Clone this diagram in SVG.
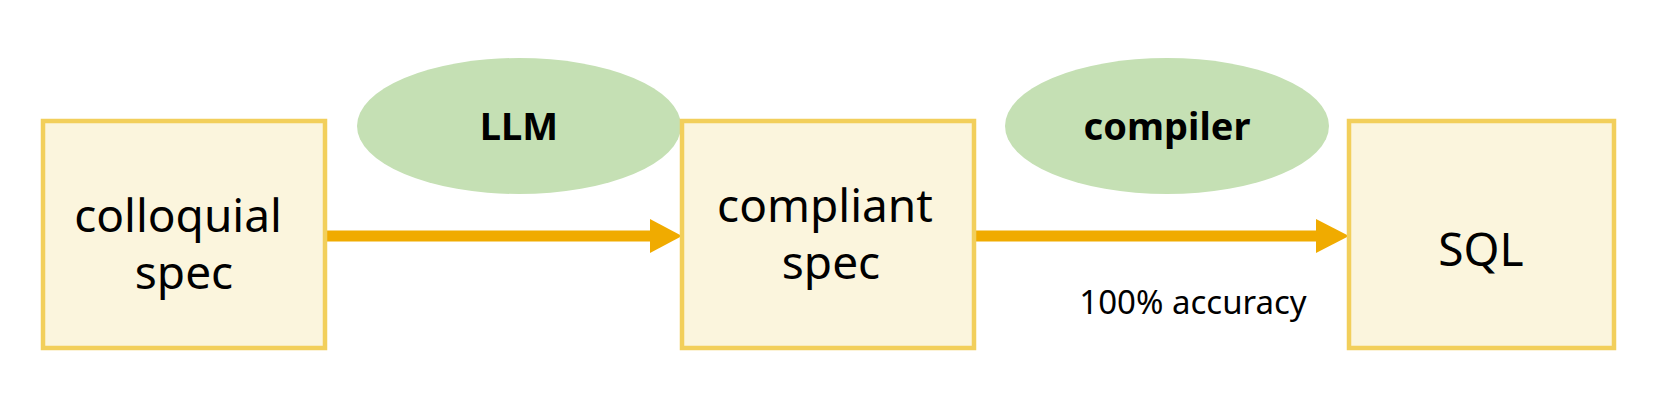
<svg xmlns="http://www.w3.org/2000/svg" width="1667" height="411" viewBox="0 0 1667 411">
<style>
.box{fill:#FBF5DD;stroke:#F2CF5B;stroke-width:4.5}
.ell{fill:#C5E0B4}
.t{font-family:"Noto Sans","Open Sans",sans-serif;font-size:46px;fill:#000;text-anchor:middle}
.b{font-family:"Noto Sans","Open Sans",sans-serif;font-size:38px;font-weight:bold;fill:#000;text-anchor:middle}
.s{font-family:"Noto Sans","Open Sans",sans-serif;font-size:33px;fill:#000;text-anchor:middle}
.a{stroke:#F0AB00;stroke-width:11;fill:none}
.h{fill:#F0AB00}
</style>
<rect width="1667" height="411" fill="#fff"/>
<g id="connectors">
<line class="a" x1="327" y1="236" x2="652" y2="236"/>
<polygon class="h" points="650,219 682,236 650,253"/>
<line class="a" x1="976" y1="236" x2="1318" y2="236"/>
<polygon class="h" points="1316,219 1349,236 1316,253"/>
</g>
<g id="colloquial"><rect class="box" x="43" y="121" width="282" height="227"/>
<text class="t" x="178" y="232">colloquial</text><text class="t" x="184" y="289">spec</text></g>
<g id="llm"><ellipse class="ell" cx="519" cy="126" rx="162" ry="68"/><text class="b" x="519" y="140">LLM</text></g>
<g id="compliant"><rect class="box" x="682" y="121" width="292" height="227"/>
<text class="t" x="825" y="222">compliant</text><text class="t" x="831" y="279">spec</text></g>
<g id="compiler"><ellipse class="ell" cx="1167" cy="126" rx="162" ry="68"/><text class="b" x="1167" y="140">compiler</text></g>
<g id="sql"><rect class="box" x="1349" y="121" width="265" height="227"/>
<text class="t" x="1481" y="266">SQL</text></g>
<text class="s" x="1193" y="314">100% accuracy</text>
</svg>
